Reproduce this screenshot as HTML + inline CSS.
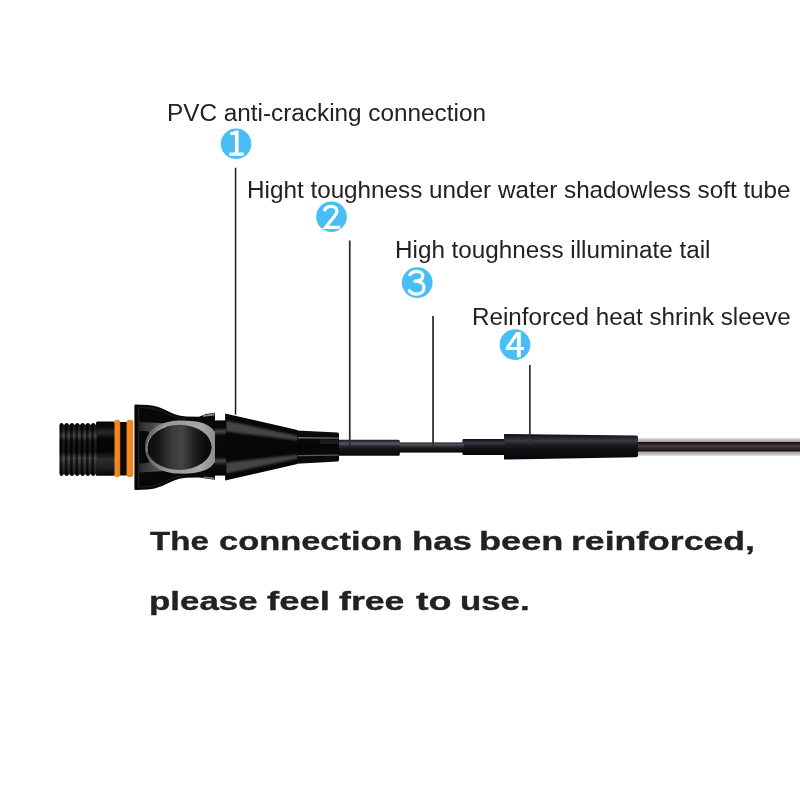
<!DOCTYPE html>
<html>
<head>
<meta charset="utf-8">
<style>
html,body{margin:0;padding:0;background:#fff;}
body{width:800px;height:800px;overflow:hidden;position:relative;font-family:"Liberation Sans",sans-serif;}
svg{position:absolute;left:0;top:0;display:block;}
.lbl{position:absolute;will-change:transform;white-space:nowrap;font-size:24.2px;line-height:24px;color:#222;font-family:"Liberation Sans",sans-serif;}
.big{-webkit-text-stroke:0.35px #222;position:absolute;will-change:transform;white-space:nowrap;font-weight:bold;font-size:25px;line-height:26px;color:#222;transform-origin:0 0;font-family:"Liberation Sans",sans-serif;}
</style>
</head>
<body>
<svg width="800" height="800" viewBox="0 0 800 800">
<defs>
  <linearGradient id="gThread" x1="0" y1="0" x2="0" y2="1">
    <stop offset="0" stop-color="#050505"/>
    <stop offset="0.12" stop-color="#0c0c0c"/>
    <stop offset="0.24" stop-color="#3a3a3a"/>
    <stop offset="0.34" stop-color="#0a0a0a"/>
    <stop offset="0.55" stop-color="#050505"/>
    <stop offset="0.66" stop-color="#3c3c3c"/>
    <stop offset="0.82" stop-color="#1a1a1a"/>
    <stop offset="1" stop-color="#050505"/>
  </linearGradient>
  <linearGradient id="gBarrel" x1="0" y1="0" x2="0" y2="1">
    <stop offset="0" stop-color="#050505"/>
    <stop offset="0.1" stop-color="#0a0a0a"/>
    <stop offset="0.2" stop-color="#2a2a2a"/>
    <stop offset="0.32" stop-color="#060606"/>
    <stop offset="0.55" stop-color="#040404"/>
    <stop offset="0.7" stop-color="#2c2c2c"/>
    <stop offset="0.85" stop-color="#202020"/>
    <stop offset="1" stop-color="#050505"/>
  </linearGradient>
  <linearGradient id="gRing" x1="0" y1="0" x2="1" y2="0">
    <stop offset="0" stop-color="#f08a2a"/>
    <stop offset="0.5" stop-color="#f6871f"/>
    <stop offset="1" stop-color="#e87c1c"/>
  </linearGradient>
  <linearGradient id="gNeck" x1="0" y1="0" x2="0" y2="1">
    <stop offset="0" stop-color="#060606"/>
    <stop offset="0.13" stop-color="#0a0a0a"/>
    <stop offset="0.2" stop-color="#464646"/>
    <stop offset="0.28" stop-color="#0a0a0a"/>
    <stop offset="0.66" stop-color="#060606"/>
    <stop offset="0.735" stop-color="#464646"/>
    <stop offset="0.82" stop-color="#0a0a0a"/>
    <stop offset="1" stop-color="#060606"/>
  </linearGradient>
  <linearGradient id="gOval" x1="0" y1="0" x2="1" y2="0">
    <stop offset="0" stop-color="#0a0a0a"/>
    <stop offset="0.18" stop-color="#161616"/>
    <stop offset="0.4" stop-color="#3c3c3c"/>
    <stop offset="0.55" stop-color="#444"/>
    <stop offset="0.72" stop-color="#222"/>
    <stop offset="0.9" stop-color="#0c0c0c"/>
    <stop offset="1" stop-color="#080808"/>
  </linearGradient>
  <linearGradient id="gArm" x1="139" y1="0" x2="176" y2="0" gradientUnits="userSpaceOnUse">
    <stop offset="0" stop-color="#2a2a2a"/>
    <stop offset="0.45" stop-color="#505050"/>
    <stop offset="1" stop-color="#8a8a8a"/>
  </linearGradient>
  <linearGradient id="gRingGray" x1="0" y1="0" x2="1" y2="0">
    <stop offset="0" stop-color="#5a5a5a"/>
    <stop offset="0.3" stop-color="#989898"/>
    <stop offset="0.8" stop-color="#a8a8a8"/>
    <stop offset="1" stop-color="#8c8c8c"/>
  </linearGradient>
  <linearGradient id="gSleeveS" x1="0" y1="0" x2="0" y2="1">
    <stop offset="0" stop-color="#0c0c0c"/>
    <stop offset="0.5" stop-color="#060606"/>
    <stop offset="1" stop-color="#0c0c0c"/>
  </linearGradient>
  <linearGradient id="gTube" x1="0" y1="0" x2="0" y2="1">
    <stop offset="0" stop-color="#1a1a20"/>
    <stop offset="0.14" stop-color="#3c3c46"/>
    <stop offset="0.25" stop-color="#585864"/>
    <stop offset="0.38" stop-color="#2a2a32"/>
    <stop offset="0.55" stop-color="#141418"/>
    <stop offset="1" stop-color="#0a0a0c"/>
  </linearGradient>
  <linearGradient id="gWire" x1="0" y1="0" x2="0" y2="1">
    <stop offset="0" stop-color="#222228"/>
    <stop offset="0.22" stop-color="#53535e"/>
    <stop offset="0.45" stop-color="#26262c"/>
    <stop offset="0.65" stop-color="#121216"/>
    <stop offset="1" stop-color="#0a0a0c"/>
  </linearGradient>
  <linearGradient id="gBig" x1="0" y1="0" x2="0" y2="1">
    <stop offset="0" stop-color="#0e0e12"/>
    <stop offset="0.14" stop-color="#24242a"/>
    <stop offset="0.27" stop-color="#3a3a42"/>
    <stop offset="0.42" stop-color="#1c1c22"/>
    <stop offset="0.6" stop-color="#101014"/>
    <stop offset="1" stop-color="#060608"/>
  </linearGradient>
  <linearGradient id="gRod" x1="0" y1="0" x2="0" y2="1">
    <stop offset="0" stop-color="#dcdcdc"/>
    <stop offset="0.08" stop-color="#c4c4c4"/>
    <stop offset="0.21" stop-color="#a2a2a2"/>
    <stop offset="0.245" stop-color="#1a1416"/>
    <stop offset="0.32" stop-color="#241c1e"/>
    <stop offset="0.46" stop-color="#4a3e40"/>
    <stop offset="0.62" stop-color="#2a2022"/>
    <stop offset="0.74" stop-color="#160e10"/>
    <stop offset="0.775" stop-color="#a6a6a6"/>
    <stop offset="0.9" stop-color="#bababa"/>
    <stop offset="1" stop-color="#dedede"/>
  </linearGradient>
  <pattern id="pThread" x="59.5" y="0" width="5.3" height="10" patternUnits="userSpaceOnUse">
    <rect x="0" y="0" width="2.6" height="10" fill="#000" opacity="0.55"/>
    <rect x="2.6" y="0" width="2.7" height="10" fill="#fff" opacity="0.07"/>
  </pattern>
  <filter id="fBlur" x="-5%" y="-20%" width="110%" height="140%"><feGaussianBlur stdDeviation="1.1"/></filter>
  <filter id="fBlurS" x="-5%" y="-20%" width="110%" height="140%"><feGaussianBlur stdDeviation="0.6"/></filter>
  <clipPath id="cCone"><path d="M225.1,413.4 L297.4,430 L297.4,464 L225.1,480.6 Z"/></clipPath>
</defs>

<!-- rod (right) -->
<rect x="636" y="438.1" width="164" height="17.7" fill="url(#gRod)"/>

<!-- big heat-shrink sleeve -->
<path d="M504,434.5 Q504,434 505,434 L636,435.6 Q638,435.7 638,437.5 L638,455.5 Q638,457.2 636,457.3 L505,459.5 Q504,459.5 504,459 Z" fill="url(#gBig)"/>
<!-- medium -->
<rect x="462.5" y="439" width="42" height="16" rx="1.2" fill="url(#gBig)"/>
<!-- thin wire -->
<rect x="398" y="442.4" width="66" height="10.2" fill="url(#gWire)"/>
<!-- thin tube -->
<rect x="337" y="439.8" width="62.8" height="16" rx="1.5" fill="url(#gTube)"/>

<!-- small sleeve -->
<path d="M297,430.5 L337.5,432.4 Q339,432.5 339,434 L339,460 Q339,461.3 337.5,461.4 L297,463.7 Z" fill="url(#gSleeveS)"/>
<rect x="320" y="439.6" width="18.5" height="4.4" fill="#1c1c1c"/>
<g filter="url(#fBlurS)">
<path d="M298,437.1 L338.5,437.6 L338.5,438.8 L298,438.4 Z" fill="#6a6a6a"/>
<path d="M298,456.2 L338.5,455.7 L338.5,454.6 L298,455 Z" fill="#5a5a5a"/>
</g>
<!-- cone -->
<path d="M225.1,413.4 L297.4,430 L297.4,464 L225.1,480.6 Z" fill="#070707"/>
<g clip-path="url(#cCone)" filter="url(#fBlur)">
<path d="M226,420.500 L298,436 L298,440.500 L226,431.500 Z" fill="#454545"/>
<path d="M226,473.500 L298,458.500 L298,454.500 L226,462.500 Z" fill="#454545"/>
</g>
<!-- neck -->
<rect x="213" y="420.4" width="13" height="55.2" fill="url(#gNeck)"/>

<!-- flared body -->
<path d="M134.4,405.6 Q134.4,404.4 135.6,404.4 L148,405 C164,406 170,415.5 186,416.6 L199,416.8 L206,414 L215,412.8 L215,479.8 L206,478.6 L199,477.6 L186,477.8 C170,479 164,488.500 148,489.5 L135.600,490 Q134.400,490 134.400,488.800 Z" fill="#080808"/>
<!-- tab highlights -->
<path d="M203,415.300 L214.500,413.200 L214.500,415.400 L203,416.800 Z" fill="#8a8a8a"/>
<path d="M203,477.600 L214.500,479.400 L214.500,477.400 L203,476.400 Z" fill="#777"/>
<!-- bevel -->
<path d="M138.700,407.500 L138.700,487" stroke="#242424" stroke-width="1.200" fill="none"/>
<path d="M138.500,407.300 L148,407.800 C162,409 169,417.500 185,418.800" stroke="#1c1c1c" stroke-width="1.200" fill="none"/>
<path d="M138.500,487.200 L148,486.700 C162,485.500 169,477 185,475.700" stroke="#1c1c1c" stroke-width="1.200" fill="none"/>
<!-- arms -->
<path d="M139.200,422 L165,423.300 Q170,422.600 174,420.600 L178,427 Q160,429 150,438 L148.500,431.600 Q146,430.900 139.200,430.800 Z" fill="url(#gArm)"/>
<path d="M139.200,472.400 L165,471.100 Q170,471.800 174,473.800 L178,467.400 Q160,465.400 150,456.400 L148.500,462.800 Q146,463.500 139.200,463.600 Z" fill="url(#gArm)"/>
<!-- gray ring -->
<path d="M145,447 C145,430 160,420.400 182,420.400 C200,420.400 210,424 215,432 L215,462 C210,470 200,473.700 182,473.700 C160,473.700 145,464 145,447 Z" fill="url(#gRingGray)"/>
<ellipse cx="179.200" cy="447.300" rx="32.400" ry="22.600" fill="url(#gOval)"/>
<path d="M147.200,452 C145.500,440 153,431 166,426.500" stroke="#d0d0d0" stroke-width="0.900" fill="none" opacity="0.850"/>
<!-- orange rings + gap -->
<rect x="119" y="422" width="9" height="53.500" fill="#0a0a0a"/>
<rect x="114" y="419.700" width="6.200" height="57.400" rx="2.800" fill="url(#gRing)"/>
<rect x="126.600" y="419.700" width="6.600" height="57.400" rx="2.800" fill="url(#gRing)"/>

<!-- barrel -->
<rect x="96" y="421.500" width="18.500" height="54.200" rx="1.500" fill="url(#gBarrel)"/>

<!-- thread -->
<path id="thr" d="M59.500,425 L60.500,423.200 L62.500,423.200 L64,425 L65.800,423.200 L67.800,423.200 L69.300,425 L71.100,423.200 L73.100,423.200 L74.600,425 L76.400,423.200 L78.400,423.200 L79.900,425 L81.700,423.200 L83.700,423.200 L85.200,425 L87,423.200 L89,423.200 L90.500,425 L92.300,423.200 L94.300,423.200 L95.800,425 L97,423 L97,476 L95.800,474 L94.300,475.800 L92.300,475.800 L90.500,474 L89,475.800 L87,475.800 L85.200,474 L83.700,475.800 L81.700,475.800 L79.900,474 L78.400,475.800 L76.400,475.800 L74.600,474 L73.100,475.800 L71.100,475.800 L69.300,474 L67.800,475.800 L65.800,475.800 L64,474 L62.500,475.800 L60.500,475.800 L59.500,474 Z" fill="url(#gThread)"/>
<path d="M59.500,425 L60.500,423.200 L62.500,423.200 L64,425 L65.800,423.200 L67.800,423.200 L69.300,425 L71.100,423.200 L73.100,423.200 L74.600,425 L76.400,423.200 L78.400,423.200 L79.900,425 L81.700,423.200 L83.700,423.200 L85.200,425 L87,423.200 L89,423.200 L90.500,425 L92.300,423.200 L94.300,423.200 L95.800,425 L97,423 L97,476 L95.800,474 L94.300,475.800 L92.300,475.800 L90.500,474 L89,475.800 L87,475.800 L85.200,474 L83.700,475.800 L81.700,475.800 L79.900,474 L78.400,475.800 L76.400,475.800 L74.600,474 L73.100,475.800 L71.100,475.800 L69.300,474 L67.800,475.800 L65.800,475.800 L64,474 L62.500,475.800 L60.500,475.800 L59.500,474 Z" fill="url(#pThread)"/>

<!-- leader lines -->
<rect x="234.8" y="167.7" width="1.5" height="247" fill="#1c1c1c"/>
<rect x="348.9" y="240.5" width="1.7" height="205" fill="#2a2a2a"/>
<rect x="432.1" y="316" width="1.9" height="130" fill="#3a3a3a"/>
<rect x="529" y="365" width="1.7" height="80" fill="#303030"/>

<!-- numbered circles -->
<g fill="#47bff6">
  <circle cx="236.1" cy="143.75" r="15.25"/>
  <circle cx="331.5" cy="216.75" r="15.35"/>
  <circle cx="417.2" cy="282.55" r="15.35"/>
  <circle cx="515" cy="344.55" r="15.35"/>
</g>
<!-- 1 -->
<path d="M234.9,130.6 L238.5,130.6 L238.5,152.600 L243.800,152.600 L243.800,155.800 L229.400,155.800 L229.400,152.600 L234.900,152.600 L234.900,135 L230.200,135 L230.200,132 L232.500,131.900 Q234.300,131.700 234.900,130.600 Z" fill="#fff"/>
<!-- 2 -->
<path d="M324.7,210.2 C325.5,207.4 328,206.3 331,206.3 C334.600,206.300 336.900,208.200 336.900,211 C336.900,213.600 335,216 331.600,219.800 L325.600,227.300 L340.200,227.300" fill="none" stroke="#fff" stroke-width="3.200" stroke-linecap="butt" stroke-linejoin="miter"/>
<circle cx="324.900" cy="209.900" r="1.700" fill="#fff"/>
<!-- 3 -->
<path d="M409.800,274.800 C411.500,272.400 414,271.400 416.600,271.400 C420.300,271.400 422.800,273.300 422.800,276 C422.800,279 420,281 415,281.200 C420.800,281.400 424,283.800 424,287.600 C424,291.500 420.800,294.100 416.600,294.100 C413.600,294.100 411,293 409.300,290.800" fill="none" stroke="#fff" stroke-width="3.2" stroke-linecap="round" stroke-linejoin="round"/>
<!-- 4 -->
<path d="M516.200,332 L520.800,332 L520.800,347 L524,347 L524,350.100 L520.800,350.100 L520.800,357.200 L516.900,357.200 L516.900,350.100 L505.700,350.100 L505.700,347.300 Z M516.900,336.800 L509.900,347 L516.900,347 Z" fill="#fff" fill-rule="evenodd"/>
</svg>

<div class="lbl" style="left:167.4px;top:100.7px;font-size:24.32px;">PVC anti-cracking connection</div>
<div class="lbl" style="left:247.4px;top:177.7px;font-size:24.28px;">Hight toughness under water shadowless soft tube</div>
<div class="lbl" style="left:394.5px;top:237.7px;font-size:24.26px;">High toughness illuminate tail</div>
<div class="lbl" style="left:471.5px;top:305.4px;">Reinforced heat shrink sleeve</div>

<div class="big" style="left:150.47px;top:527.8px;transform:scaleX(1.3225);">The</div>
<div class="big" style="left:218.62px;top:527.8px;transform:scaleX(1.3767);">connection</div>
<div class="big" style="left:411.57px;top:527.8px;transform:scaleX(1.3913);">has</div>
<div class="big" style="left:478.97px;top:527.8px;transform:scaleX(1.4455);">been</div>
<div class="big" style="left:571.01px;top:527.8px;transform:scaleX(1.4235);">reinforced,</div>
<div class="big" style="left:148.56px;top:587.8px;transform:scaleX(1.3953);">please</div>
<div class="big" style="left:267.27px;top:587.8px;transform:scaleX(1.4601);">feel</div>
<div class="big" style="left:339.29px;top:587.8px;transform:scaleX(1.427);">free</div>
<div class="big" style="left:416.12px;top:587.8px;transform:scaleX(1.5056);">to</div>
<div class="big" style="left:460.41px;top:587.8px;transform:scaleX(1.3904);">use.</div>
</body>
</html>
